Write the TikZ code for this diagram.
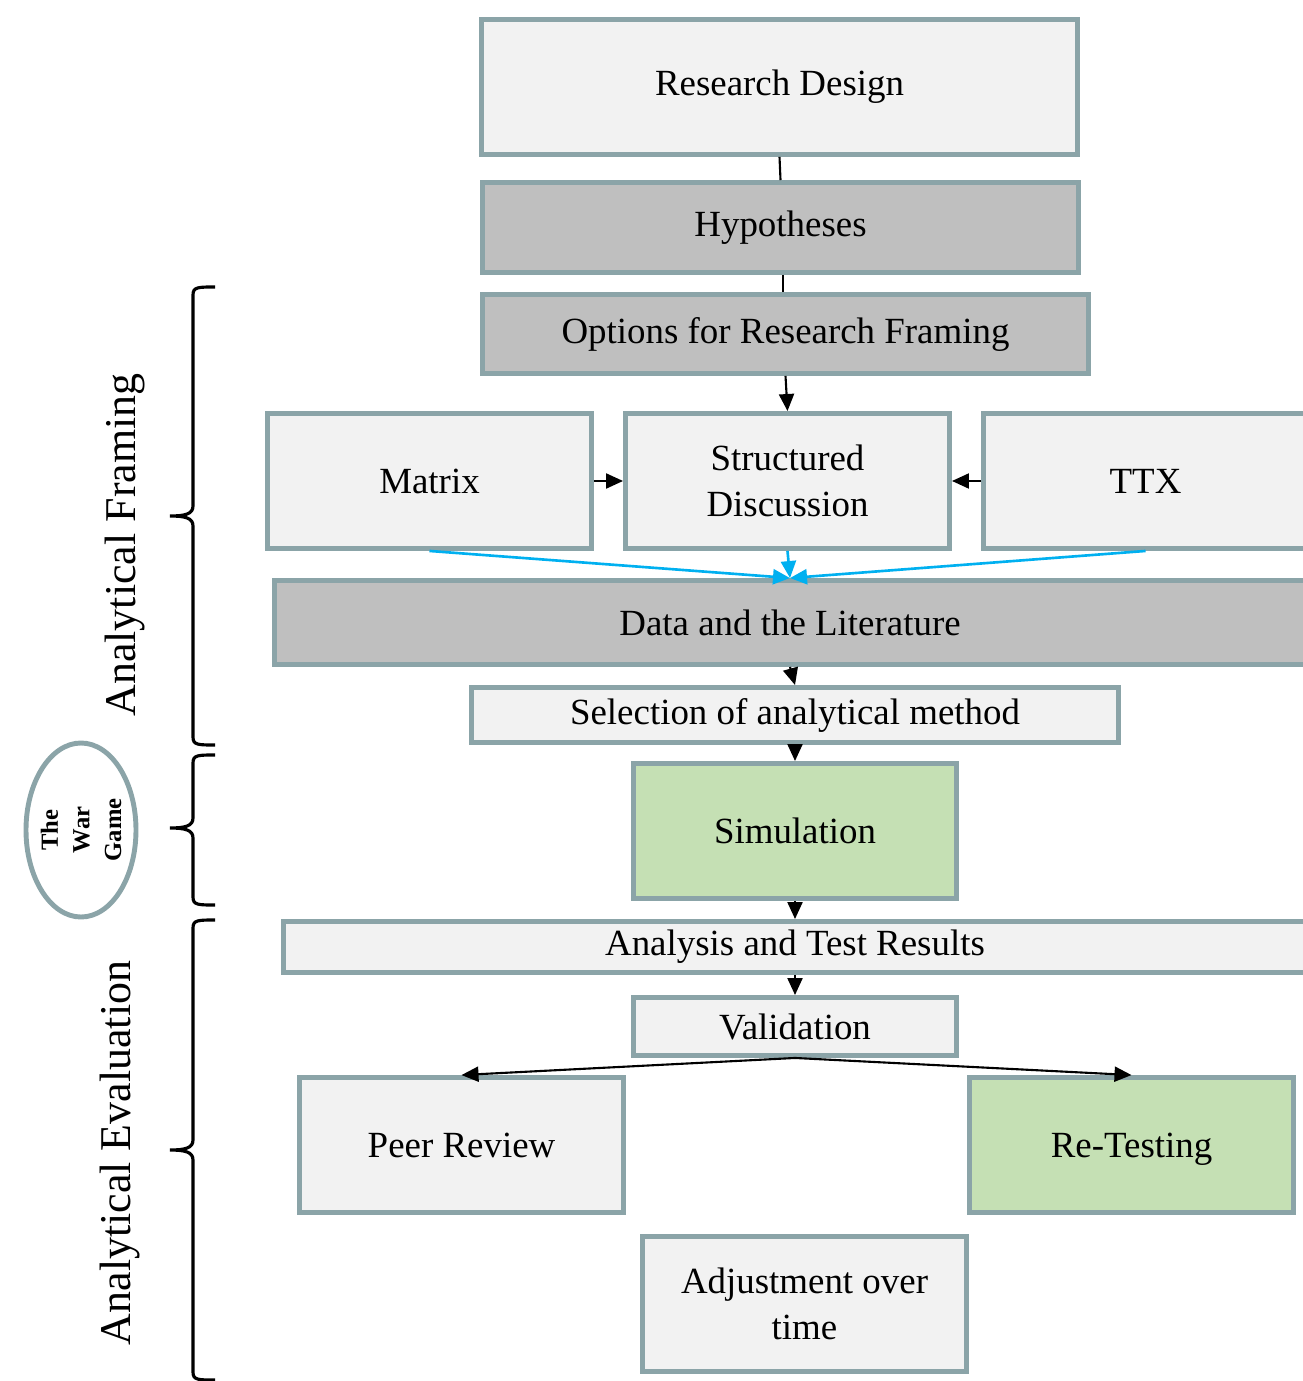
\documentclass[tikz,border=0pt]{standalone}
\usepackage{fontspec}
\setmainfont{Liberation Serif}
\usetikzlibrary{arrows.meta,shapes.geometric}

\definecolor{boxline}{RGB}{139,164,168}
\definecolor{lightfill}{RGB}{242,242,242}
\definecolor{darkfill}{RGB}{191,191,191}
\definecolor{greenfill}{RGB}{197,224,180}
\definecolor{flowblue}{RGB}{0,176,240}

% curly bracket on the left: top, tip and bottom heights
\newcommand{\phasebrace}[3]{%
  \draw[bracket] (2.15,#1) .. controls (1.98,#1) and (1.93,#1) .. ([yshift=-0.08cm]1.93,#1)
    -- ([yshift=0.10cm]1.93,#2) .. controls ([yshift=0.02cm]1.93,#2) and (1.85,#2) .. (1.70,#2)
    .. controls (1.85,#2) and ([yshift=-0.02cm]1.93,#2) .. ([yshift=-0.10cm]1.93,#2)
    -- ([yshift=0.08cm]1.93,#3) .. controls (1.93,#3) and (1.98,#3) .. (2.15,#3);}

\begin{document}
\begin{tikzpicture}[
  block/.style={rectangle, draw=boxline, line width=1.4pt, fill=lightfill,
    inner sep=0pt, align=center, font=\fontsize{10.5}{13}\selectfont},
  grey/.style={block, fill=darkfill},
  green/.style={block, fill=greenfill},
  flow/.style={-{Triangle[width=0.15cm,length=0.17cm]}, line width=0.6pt},
  feed/.style={flow, draw=flowblue, fill=flowblue, line width=0.75pt},
  bracket/.style={line width=0.9pt},
  side/.style={rotate=90, font=\fontsize{12.5}{15}\selectfont}
]
\clip (0,0) rectangle (13.03,-13.81);

% main column
\node[block, minimum width=5.96cm, minimum height=1.35cm] (design) at (7.795,-0.87) {Research Design};
\node[grey, minimum width=5.96cm, minimum height=0.90cm] (hyp) at (7.805,-2.275) {Hypotheses};
\node[grey, minimum width=6.06cm, minimum height=0.79cm] (options) at (7.855,-3.34) {Options for Research Framing};

% the three framing options
\node[block, minimum width=3.24cm, minimum height=1.35cm] (matrix) at (4.295,-4.81) {Matrix};
\node[block, minimum width=3.24cm, minimum height=1.35cm] (discuss) at (7.875,-4.81) {Structured\\Discussion};
\node[block, minimum width=3.24cm, minimum height=1.35cm] (ttx) at (11.455,-4.81) {TTX};

\node[grey, minimum width=10.31cm, minimum height=0.84cm] (data) at (7.90,-6.225) {Data and the Literature};
\node[block, minimum width=6.47cm, minimum height=0.55cm] (select) at (7.95,-7.15) {Selection of analytical method};
\node[green, minimum width=3.23cm, minimum height=1.35cm] (sim) at (7.95,-8.31) {Simulation};
\node[block, minimum width=10.23cm, minimum height=0.51cm] (results) at (7.95,-9.47) {Analysis and Test Results};
\node[block, minimum width=3.23cm, minimum height=0.58cm] (valid) at (7.95,-10.265) {Validation};
\node[block, minimum width=3.24cm, minimum height=1.35cm] (peer) at (4.615,-11.45) {Peer Review};
\node[green, minimum width=3.24cm, minimum height=1.35cm, text depth=0pt] (retest) at (11.315,-11.45) {Re-Testing};
\node[block, minimum width=3.24cm, minimum height=1.35cm] (adjust) at (8.045,-13.04) {Adjustment over\\time};

% connectors
\draw[line width=0.6pt] (design.south) -- (hyp.north);
\draw[line width=0.6pt] ([xshift=0.025cm]hyp.south) -- ([xshift=0.025cm]hyp.south |- options.north);
\draw[flow] (options.south) -- (discuss.north);
\draw[flow] (matrix.east) -- (discuss.west);
\draw[flow] (ttx.west) -- (discuss.east);
\draw[feed] (matrix.south) -- (data.north);
\draw[feed] (discuss.south) -- (data.north);
\draw[feed] (ttx.south) -- (data.north);
\draw[flow] (data.south) -- (select.north);
\draw[flow] (select.south) -- (sim.north);
\draw[flow] (sim.south) -- (results.north);
\draw[flow] (results.south) -- (valid.north);
\draw[flow] (valid.south) -- (peer.north);
\draw[flow] (valid.south) -- (retest.north);

% phases on the left
\phasebrace{-2.87}{-5.16}{-7.45}
\phasebrace{-7.55}{-8.28}{-9.05}
\phasebrace{-9.20}{-11.50}{-13.80}

\node[side] (framing) at (1.25,-5.45) {Analytical Framing};
\node[side] (evaluation) at (1.20,-11.53) {Analytical Evaluation};
\node[ellipse, draw=boxline, line width=1.4pt, minimum width=1.10cm, minimum height=1.74cm,
  inner sep=0pt] (wargame) at (0.81,-8.30) {};
\node[rotate=90, align=center, font=\fontsize{7}{9}\selectfont\bfseries] (wartext) at (wargame.center) {The\\War\\Game};
\end{tikzpicture}
\end{document}
